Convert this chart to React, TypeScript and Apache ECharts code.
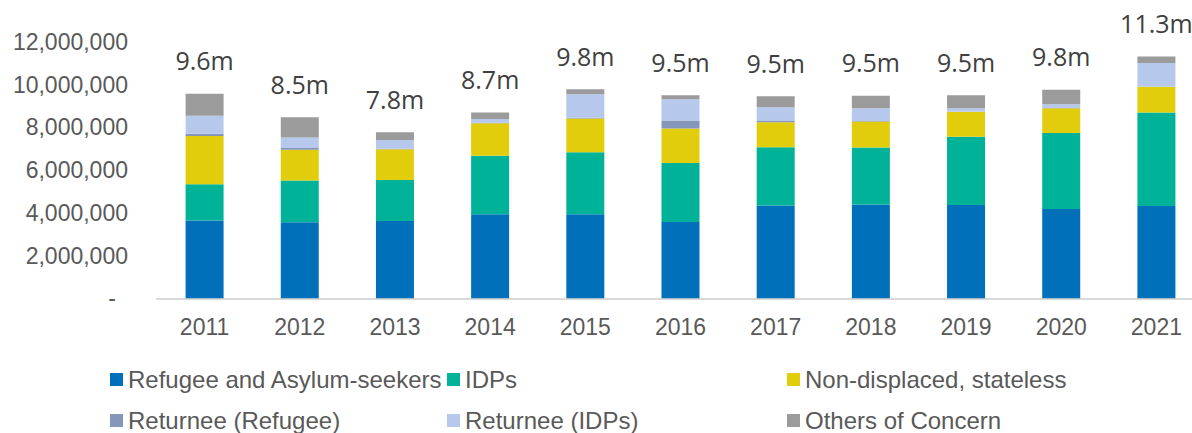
import React, { useEffect, useRef } from "react";
import * as echarts from "echarts";

const years = ["2011", "2012", "2013", "2014", "2015", "2016", "2017", "2018", "2019", "2020", "2021"];
const refugees = [3640000, 3560000, 3620000, 3930000, 3930000, 3570000, 4340000, 4390000, 4370000, 4180000, 4320000];
const idps = [1700000, 1950000, 1920000, 2750000, 2910000, 2770000, 2730000, 2670000, 3190000, 3560000, 4380000];
const nonDisplaced = [2260000, 1450000, 1440000, 1520000, 1580000, 1610000, 1170000, 1220000, 1170000, 1160000, 1200000];
const returneeRefugee = [110000, 80000, 20000, 20000, 30000, 370000, 60000, 20000, 10000, 10000, 10000];
const returneeIdps = [840000, 490000, 410000, 180000, 1100000, 1000000, 650000, 600000, 160000, 180000, 1110000];
const others = [1030000, 950000, 370000, 300000, 240000, 190000, 510000, 580000, 610000, 670000, 300000];

const seriesNames = [
  "Refugee and Asylum-seekers",
  "IDPs",
  "Non-displaced, stateless",
  "Returnee (Refugee)",
  "Returnee (IDPs)",
  "Others of Concern",
];
const seriesColors = ["#0070BB", "#00B398", "#E2CD0C", "#8496BA", "#B6C8EC", "#9B9B9B"];
const seriesData = [refugees, idps, nonDisplaced, returneeRefugee, returneeIdps, others];

const totals = years.map((_, i) => seriesData.reduce((s, arr) => s + arr[i], 0));

const AXIS_FONT = "'Liberation Sans', Arial, sans-serif";

export default function App() {
  const ref = useRef<HTMLDivElement>(null);
  useEffect(() => {
    document.body.style.margin = "0";
    document.body.style.overflow = "hidden";
    if (!ref.current) return;
    const chart = echarts.init(ref.current, null, { renderer: "svg" });
    const legendPos = [
      { left: 110, top: 367.5 },
      { left: 447, top: 367.5 },
      { left: 787, top: 367.5 },
      { left: 110, top: 408.5 },
      { left: 447, top: 408.5 },
      { left: 787, top: 408.5 },
    ];
    chart.setOption({
      animation: false,
      grid: { left: 157, top: 42, width: 1047, height: 256.3, containLabel: false },
      legend: seriesNames.map((n, i) => ({
        data: [n],
        left: legendPos[i].left,
        top: legendPos[i].top,
        padding: 0,
        itemWidth: 13,
        itemHeight: 13,
        icon: "rect",
        selectedMode: false,
        textStyle: { fontFamily: AXIS_FONT, fontSize: 24, color: "#595959" },
      })),
      xAxis: {
        type: "category",
        data: years,
        axisLine: { show: true, lineStyle: { color: "#D9D9D9", width: 2 } },
        axisTick: { show: false },
        axisLabel: { margin: 17, fontFamily: AXIS_FONT, fontSize: 23, color: "#595959" },
      },
      yAxis: {
        type: "value",
        min: 0,
        max: 12000000,
        interval: 2000000,
        splitLine: { show: false },
        axisLine: { show: false },
        axisTick: { show: false },
        axisLabel: {
          margin: 29,
          fontFamily: AXIS_FONT,
          fontSize: 23,
          color: "#595959",
          formatter: (v: number) => (v === 0 ? "{d|-}" : v.toLocaleString("en-US")),
          rich: {
            d: { padding: [0, 12, 0, 0], fontFamily: AXIS_FONT, fontSize: 23, color: "#595959" },
          },
        },
      },
      series: seriesNames.map((n, i) => ({
        name: n,
        type: "bar",
        stack: "total",
        barWidth: 38,
        data: seriesData[i],
        itemStyle: { color: seriesColors[i] },
        label:
          i === seriesNames.length - 1
            ? {
                show: true,
                position: "top",
                distance: 21,
                fontFamily: "'Open Sans', sans-serif",
                fontSize: 25,
                color: "#404040",
                formatter: (p: any) => (totals[p.dataIndex] / 1e6).toFixed(1) + "m",
              }
            : { show: false },
      })),
    });
    return () => chart.dispose();
  }, []);
  return <div ref={ref} style={{ width: 1210, height: 433 }} />;
}
